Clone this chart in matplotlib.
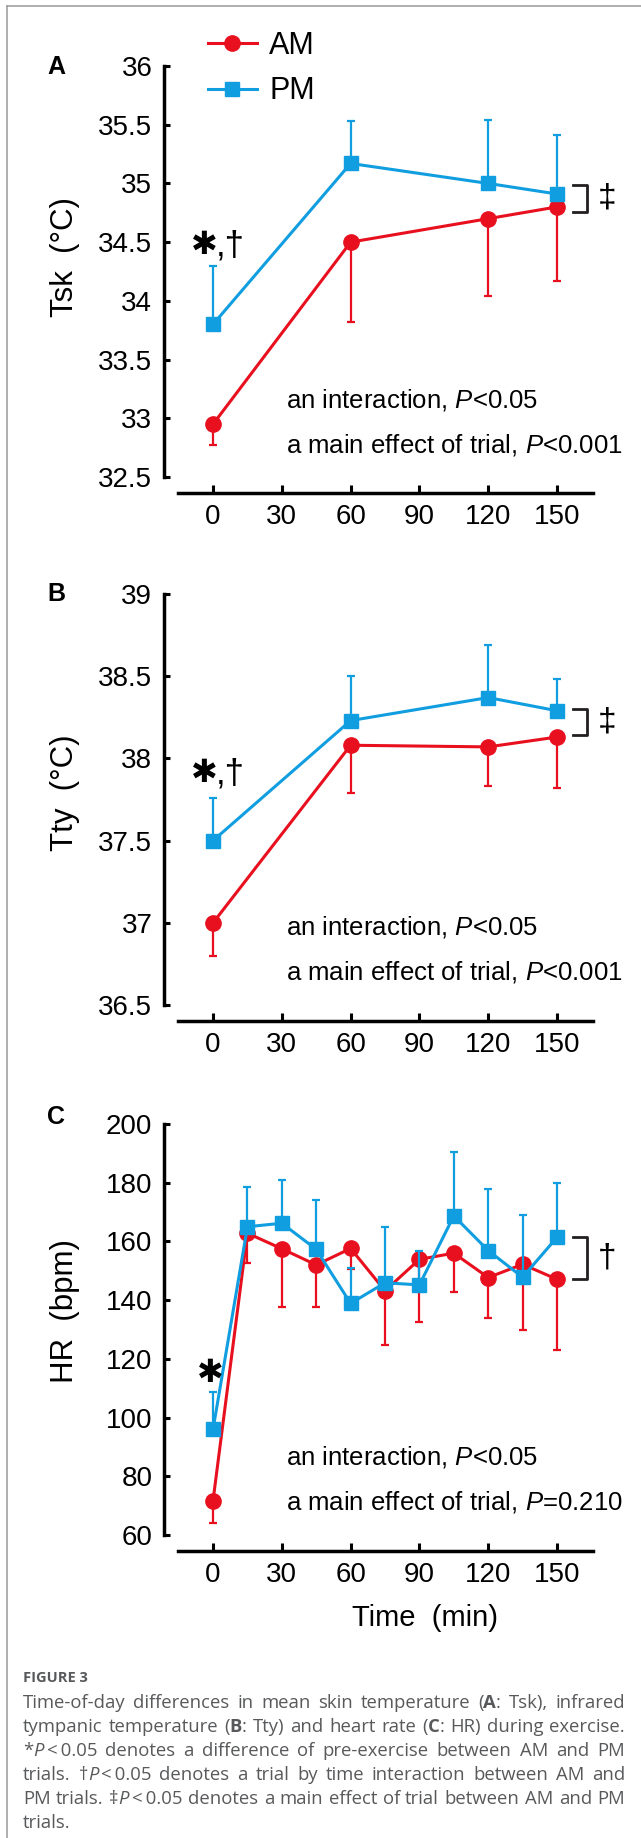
import re

import matplotlib

matplotlib.use("Agg")
import matplotlib.pyplot as plt
from matplotlib.lines import Line2D
from matplotlib.ticker import FuncFormatter

W, H = 641, 1838
RED = "#E8101E"
BLUE = "#109EE0"
CAPTION_GREY = "#58595B"

# panel A: mean skin temperature
TSK_TIME = [0, 60, 120, 150]
TSK_AM = [32.95, 34.50, 34.70, 34.80]
TSK_AM_SD = [0.18, 0.68, 0.66, 0.63]
TSK_PM = [33.80, 35.17, 35.00, 34.91]
TSK_PM_SD = [0.50, 0.36, 0.54, 0.50]

# panel B: tympanic temperature
TTY_TIME = [0, 60, 120, 150]
TTY_AM = [37.00, 38.08, 38.07, 38.13]
TTY_AM_SD = [0.20, 0.29, 0.24, 0.31]
TTY_PM = [37.50, 38.23, 38.37, 38.29]
TTY_PM_SD = [0.26, 0.27, 0.32, 0.19]

# panel C: heart rate
HR_TIME = [0, 15, 30, 45, 60, 75, 90, 105, 120, 135, 150]
HR_AM = [71.7, 162.8, 157.5, 152.0, 157.6, 143.2, 153.9, 156.0, 147.7, 152.2, 147.1]
HR_AM_SD = [7.7, 10.0, 19.7, 14.5, 7.0, 18.5, 21.5, 13.1, 13.9, 22.4, 24.1]
HR_PM = [96.0, 165.0, 166.2, 157.3, 138.9, 145.9, 145.2, 168.7, 156.9, 147.8, 161.4]
HR_PM_SD = [12.8, 13.4, 14.7, 16.8, 11.9, 18.9, 11.7, 21.9, 20.8, 21.2, 18.6]

X_TICKS = [0, 30, 60, 90, 120, 150]
TSK_TICKS = [32.5, 33, 33.5, 34, 34.5, 35, 35.5, 36]
TTY_TICKS = [36.5, 37, 37.5, 38, 38.5, 39]
HR_TICKS = [60, 80, 100, 120, 140, 160, 180, 200]

CAPTION_LINES = [
    "Time-of-day differences in mean skin temperature ({b:A}: Tsk), infrared",
    "tympanic temperature ({b:B}: Tty) and heart rate ({b:C}: HR) during exercise.",
    "*{i:P}\u2009<\u20090.05 denotes a difference of pre-exercise between AM and PM",
    "trials. \u2020{i:P}\u2009<\u20090.05 denotes a trial by time interaction between AM and",
    "PM trials. \u2021{i:P}\u2009<\u20090.05 denotes a main effect of trial between AM and PM",
    "trials.",
]

plt.rcParams["font.family"] = ["Liberation Sans", "DejaVu Sans"]
plt.rcParams["mathtext.fontset"] = "custom"
plt.rcParams["mathtext.rm"] = "Liberation Sans"
plt.rcParams["mathtext.it"] = "Liberation Sans:italic"

LEFT_PX, RIGHT_PX = 163.5, 593
X_LIM = (-21.6, 165.7)


def fx(px):
    return px / W


def fy(py):
    return 1 - py / H


def make_panel(fig, top_px, bottom_px, ylim, yticks, ylabel, label_y):
    ax = fig.add_axes([fx(LEFT_PX), fy(bottom_px), (RIGHT_PX - LEFT_PX) / W, (bottom_px - top_px) / H])
    ax.set_xlim(X_LIM)
    ax.set_ylim(ylim)
    for side in ("top", "right"):
        ax.spines[side].set_visible(False)
    ax.spines["left"].set_linewidth(2.5)
    ax.spines["bottom"].set_linewidth(2.5)
    ax.spines["bottom"].set_position(("outward", 11.5))
    ax.spines["bottom"].set_bounds(-15.3, X_LIM[1])
    ax.set_xticks(X_TICKS)
    ax.set_yticks(yticks)
    ax.tick_params(axis="y", direction="in", length=4.5, width=2.2, labelsize=20, pad=8)
    ax.tick_params(axis="x", direction="in", length=6, width=2.2, labelsize=20, pad=8)
    ax.yaxis.set_major_formatter(FuncFormatter(lambda v, _: f"{v:g}"))
    ax.set_ylabel(ylabel, fontsize=22.5)
    ax.yaxis.label.set_va("center")
    ax.yaxis.set_label_coords(-0.229, label_y)
    ax.patch.set_alpha(0)
    return ax


def draw_series(ax, t, am, am_sd, pm, pm_sd):
    zeros = [0] * len(t)
    ax.errorbar(t, am, yerr=[am_sd, zeros], fmt="none", ecolor=RED, elinewidth=1.6, capsize=3, capthick=1.6)
    ax.plot(t, am, "-o", color=RED, lw=2.2, ms=11, mec=RED)
    ax.errorbar(t, pm, yerr=[zeros, pm_sd], fmt="none", ecolor=BLUE, elinewidth=1.6, capsize=3, capthick=1.6)
    ax.plot(t, pm, "-s", color=BLUE, lw=2.2, ms=10.5, mec=BLUE)


def draw_bracket(ax, top, bottom, symbol):
    ax.plot([157, 163, 163, 157], [top, top, bottom, bottom], color="#231F20", lw=2, clip_on=False)
    ax.text(171.8, (top + bottom) / 2, symbol, fontsize=24, ha="center", va="center", clip_on=False)


def star_marks(fig, x_px, y_px, with_dagger=True):
    fig.text(fx(x_px), fy(y_px), "\u2731", family=["DejaVu Sans"], fontsize=23, ha="center", va="center")
    if with_dagger:
        fig.text(fx(x_px + 12), fy(y_px + 1), ",\u2020", fontsize=25, ha="left", va="center")


def stats_text(fig, y1, y2, last):
    fig.text(fx(286), fy(y1), r"an interaction, $\mathit{P}$<0.05", fontsize=18.5, va="center")
    fig.text(fx(286), fy(y2), "a main effect of trial, " + last, fontsize=18.5, va="center")


fig = plt.figure(figsize=(W / 100, H / 100), dpi=100)

# page frame (left and top edges visible)
fig.add_artist(Line2D([fx(6.5), fx(6.5)], [0, fy(5.5)], color="#9A9A9A", lw=1.1))
fig.add_artist(Line2D([fx(6.5), 1], [fy(5.5), fy(5.5)], color="#9A9A9A", lw=1.1))

ax_a = make_panel(fig, 66, 477, (32.5, 36), TSK_TICKS, "Tsk  (\u00b0C)", 0.535)
draw_series(ax_a, TSK_TIME, TSK_AM, TSK_AM_SD, TSK_PM, TSK_PM_SD)
draw_bracket(ax_a, TSK_PM[-1] + 0.08, TSK_AM[-1] - 0.04, "\u2021")
star_marks(fig, 204, 245)
stats_text(fig, 400, 445, r"$\mathit{P}$<0.001")

handles = [
    Line2D([], [], color=RED, marker="o", lw=2.2, ms=11),
    Line2D([], [], color=BLUE, marker="s", lw=2.2, ms=10.5),
]
ax_a.legend(handles, ["AM", "PM"], loc="upper left", bbox_to_anchor=(fx(208), fy(31)),
            bbox_transform=fig.transFigure, frameon=False, fontsize=22, borderpad=0,
            borderaxespad=0, handlelength=1.6, handletextpad=0.4, labelspacing=0.5)

ax_b = make_panel(fig, 594, 1005, (36.5, 39), TTY_TICKS, "Tty  (\u00b0C)", 0.516)
draw_series(ax_b, TTY_TIME, TTY_AM, TTY_AM_SD, TTY_PM, TTY_PM_SD)
draw_bracket(ax_b, TTY_PM[-1] + 0.01, TTY_AM[-1] + 0.01, "\u2021")
star_marks(fig, 204, 773)
stats_text(fig, 927, 972, r"$\mathit{P}$<0.001")

ax_c = make_panel(fig, 1124, 1535, (60, 200), HR_TICKS, "HR  (bpm)", 0.545)
draw_series(ax_c, HR_TIME, HR_AM, HR_AM_SD, HR_PM, HR_PM_SD)
draw_bracket(ax_c, HR_PM[-1], HR_AM[-1], "\u2020")
star_marks(fig, 210, 1373, with_dagger=False)
stats_text(fig, 1457, 1502, r"$\mathit{P}$=0.210")
ax_c.set_xlabel("Time  (min)", fontsize=21)
ax_c.xaxis.set_label_coords(0.609, -0.202)
ax_c.xaxis.label.set_va("center")

for letter, y_px in (("A", 67), ("B", 594), ("C", 1117)):
    fig.text(fx(56), fy(y_px), letter, fontsize=18, fontweight="bold", ha="center", va="center")

# caption, justified by hand
fig.text(fx(23), fy(1678), "FIGURE 3", family=["Open Sans", "DejaVu Sans"], fontsize=10.5,
         fontweight="bold", color=CAPTION_GREY, va="center")

renderer = fig.canvas.get_renderer()
cap_font = dict(family=["Open Sans", "DejaVu Sans"], fontsize=13.3, color=CAPTION_GREY, va="center")


def split_word(word):
    pieces = []
    for part in re.split(r"(\{[ib]:[^}]*\})", word):
        if not part:
            continue
        if part.startswith("{i:"):
            pieces.append((part[3:-1], {"style": "italic"}))
        elif part.startswith("{b:"):
            pieces.append((part[3:-1], {"weight": "bold"}))
        else:
            pieces.append((part, {}))
    return pieces


def text_width(s, props):
    t = fig.text(0, 0, s, **cap_font, **props)
    w = t.get_window_extent(renderer).width
    t.remove()
    return w


cap_left, cap_right = 23, 625
space_w = text_width("a a", {}) - 2 * text_width("a", {})
for i, line in enumerate(CAPTION_LINES):
    words = [split_word(w) for w in line.split(" ")]
    widths = [[text_width(s, p) for s, p in word] for word in words]
    total = sum(sum(ws) for ws in widths)
    last_line = i == len(CAPTION_LINES) - 1
    gap = space_w if last_line or len(words) < 2 else (cap_right - cap_left - total) / (len(words) - 1)
    x = cap_left
    y = fy(1703 + 24 * i)
    for word, ws in zip(words, widths):
        for (s, p), w in zip(word, ws):
            fig.text(fx(x), y, s, **cap_font, **p)
            x += w
        x += gap

fig.savefig("out.png", dpi=100)
